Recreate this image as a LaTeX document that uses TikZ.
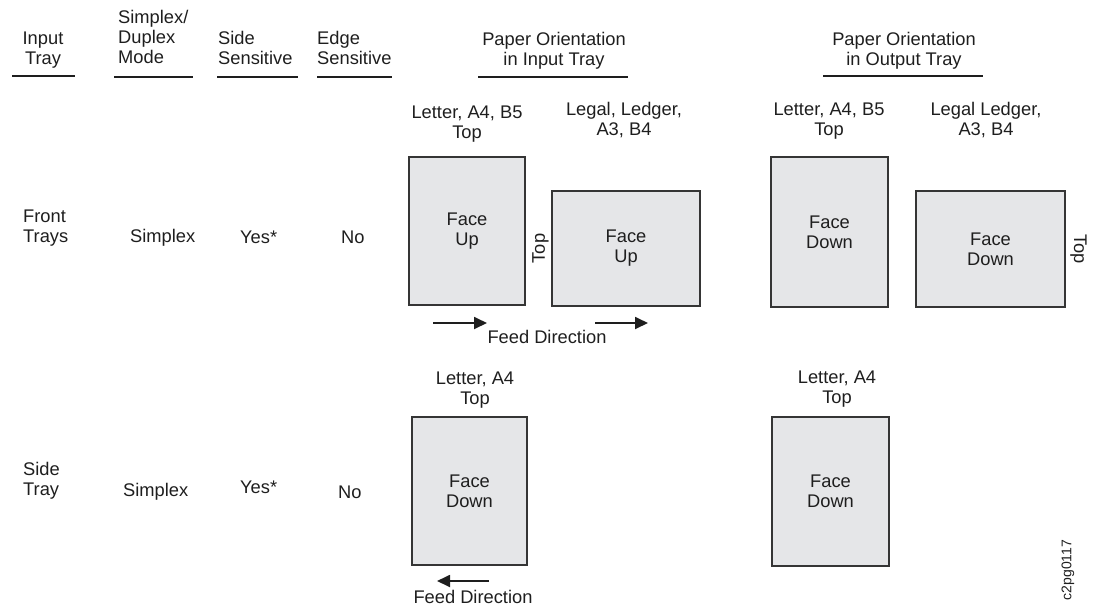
\documentclass[tikz,border=0pt]{standalone}
\usepackage{fontspec}
\setmainfont{Liberation Sans}
\usetikzlibrary{calc,arrows.meta}
\definecolor{sheet}{RGB}{229,230,232}
\definecolor{ink}{RGB}{30,30,30}

\begin{document}
\begin{tikzpicture}[x=1pt,y=-1pt,
    txt/.style={font=\fontsize{18.3}{20}\selectfont,text=ink,inner sep=0pt},
    hdr/.style={txt,align=left,anchor=base west},
    lbl/.style={txt,align=center,anchor=base},
    paper/.style={txt,align=center,draw=ink!90,line width=1.2pt,fill=sheet},
    rule/.style={draw=ink,line width=1.8pt},
    feed/.style={-{Triangle[length=13pt,width=12pt]},line width=1.8pt,ink}]
      \useasboundingbox (0,0) rectangle (1104,611);
      % column heads
      \node[lbl] (hin) at (43,64) {Input\\Tray};
      \node[hdr] (hmode) at (118,63) {Simplex/\\Duplex\\Mode};
      \node[hdr] (hside) at (218,64) {Side\\Sensitive};
      \node[hdr] (hedge) at (317,64) {Edge\\Sensitive};
      \node[lbl] (hpin) at (554,65) {Paper Orientation\\in Input Tray};
      \node[lbl] (hpout) at (904,65) {Paper Orientation\\in Output Tray};
      \draw[rule] (12,76) -- (75,76);
      \draw[rule] (114,77) -- (193,77);
      \draw[rule] (217,77) -- (298,77);
      \draw[rule] (317,77) -- (392,77);
      \draw[rule] (478,77) -- (628,77);
      \draw[rule] (823,76) -- (983,76);
      % front trays
      \node[hdr] (front) at (23,242) {Front\\Trays};
      \node[txt,anchor=base west] (fmode) at (130,242) {Simplex};
      \node[txt,anchor=base west] (fside) at (240,243) {Yes*};
      \node[txt,anchor=base west] (fedge) at (341,243) {No};
      \node[paper,minimum width=116pt,minimum height=148pt] (inA) at (467,231) {Face\\Up};
      \node[paper,minimum width=148pt,minimum height=115pt] (inB) at (626,248.5) {Face\\Up};
      \node[paper,minimum width=117pt,minimum height=150pt] (outA) at (829.5,232) {Face\\Down};
      \node[paper,minimum width=149pt,minimum height=116pt] (outB) at (990.5,249) {Face\\Down};
      \node[lbl] (inAlbl) at (467,138) {Letter, A4, B5\\Top};
      \node[lbl] (inBlbl) at (624,135) {Legal, Ledger,\\A3, B4};
      \node[lbl] (outAlbl) at (829,135) {Letter, A4, B5\\Top};
      \node[lbl] (outBlbl) at (986,135) {Legal Ledger,\\A3, B4};
      \node[txt,rotate=90] (topB) at ($(inB.west)+(-11,0)$) {Top};
      \node[txt,rotate=-90] (topD) at ($(outB.east)+(13,0)$) {Top};
      \coordinate (fa1) at (433,323);
      \coordinate (fb1) at (487,323);
      \coordinate (fa2) at (595,323);
      \coordinate (fb2) at (648,323);
      \draw[feed] (fa1) -- (fb1);
      \draw[feed] (fa2) -- (fb2);
      \node[lbl] (feedin) at (547,343) {Feed Direction};
      % side tray
      \node[hdr] (side) at (23,495) {Side\\Tray};
      \node[txt,anchor=base west] (smode) at (123,496) {Simplex};
      \node[txt,anchor=base west] (sside) at (240,493) {Yes*};
      \node[txt,anchor=base west] (sedge) at (338,498) {No};
      \node[paper,minimum width=115pt,minimum height=148pt] (sin) at (469.5,491) {Face\\Down};
      \node[paper,minimum width=117pt,minimum height=149pt] (sout) at (830.5,491.5) {Face\\Down};
      \node[lbl] (sinlbl) at (475,404) {Letter, A4\\Top};
      \node[lbl] (soutlbl) at (837,403) {Letter, A4\\Top};
      \coordinate (fa3) at (489,581);
      \coordinate (fb3) at (437,581);
      \draw[feed] (fa3) -- (fb3);
      \node[lbl] (feedside) at (473,603) {Feed Direction};
      \node[txt,font=\fontsize{14}{16}\selectfont,rotate=90] (figid) at (1068,570) {c2pg0117};
    \end{tikzpicture}
\end{document}
